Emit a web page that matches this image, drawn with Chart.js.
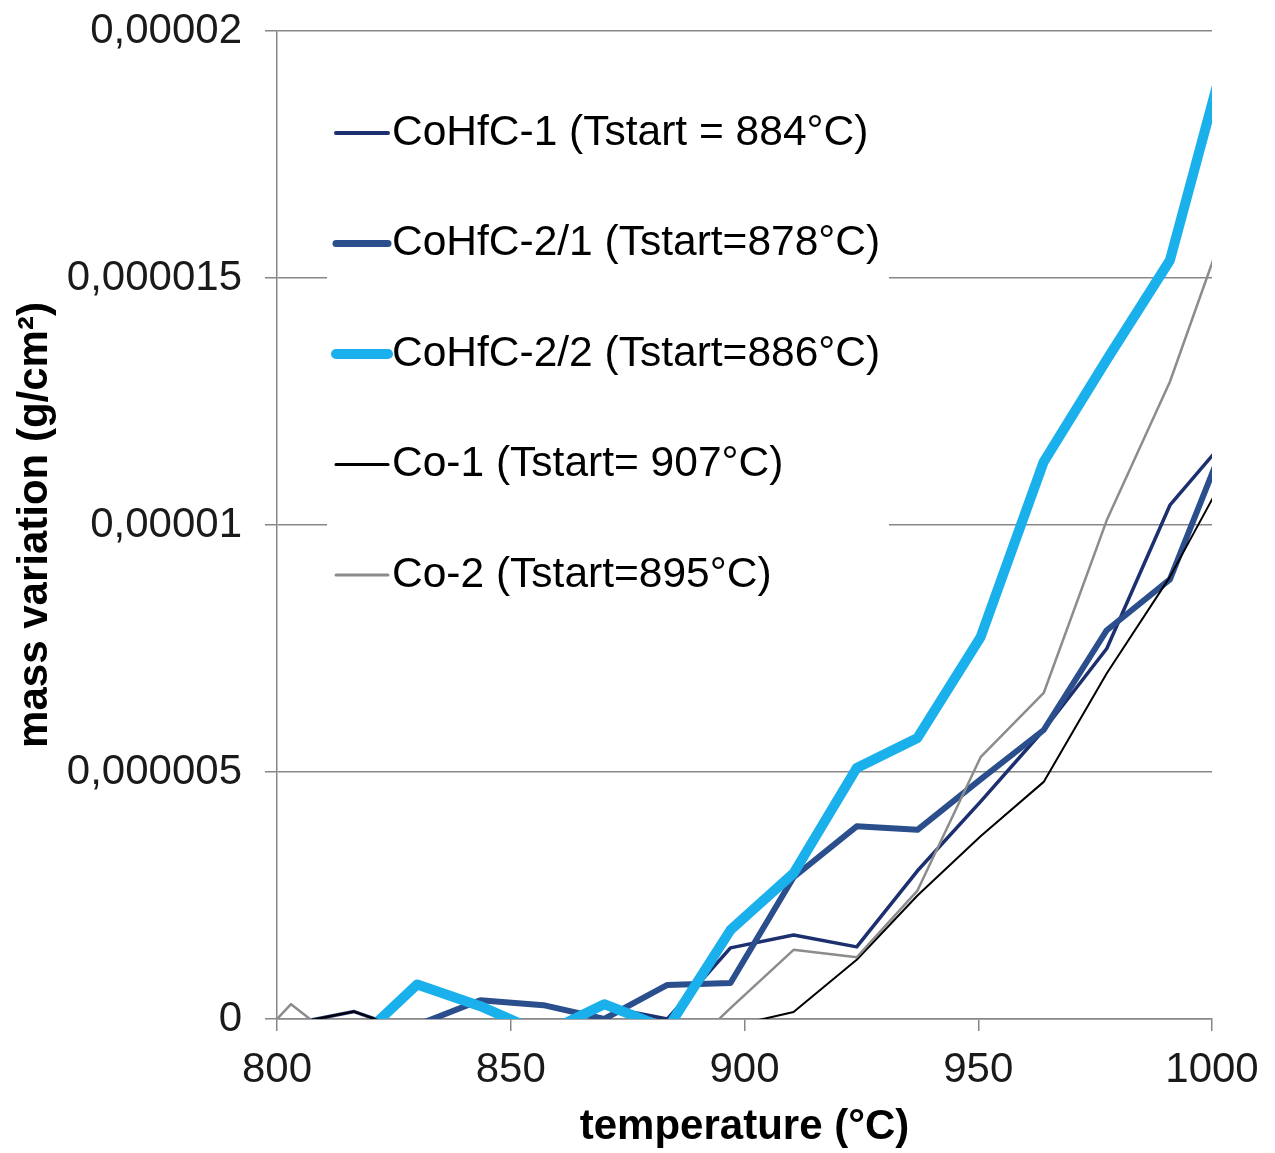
<!DOCTYPE html>
<html lang="en">
<head>
    <meta charset="UTF-8" />
    <title>mass variation vs temperature</title>
    <script src="https://cdn.jsdelivr.net/npm/chart.js"></script>
    <style>
        body {
            margin: 0;
            padding: 0;
            background: #fff;
        }

        #wrap {
            width: 1275px;
            height: 1153px;
        }
    </style>
</head>
<body>
    <div id="wrap"><canvas id="myChart" width="1275" height="1153"></canvas></div>

    <script>
        // temperatures (°C) of the readings, shared by every sample
        const temperatures = [790, 803, 816.5, 830, 843.5, 857, 870, 883.5, 897, 910.5, 924, 937, 950.5, 964, 977.5, 991, 1004.5];

        // mass variation, in units of 0,000001 g/cm²
        const cohfc1 = [null, -0.1, 0.15, -0.3, -0.3, -0.3, 0.25, 0.0, 1.44, 1.7, 1.46, 3.0, 4.4, 5.85, 7.5, 10.4, 11.9];
        const cohfc21 = [null, -0.3, -0.3, -0.12, 0.38, 0.28, 0.0, 0.69, 0.73, 2.87, 3.9, 3.83, 4.85, 5.85, 7.87, 8.9, 12.1];
        const cohfc22 = [null, -0.8, -0.5, 0.7, 0.26, -0.3, 0.3, -0.2, 1.8, 2.95, 5.08, 5.69, 7.73, 11.28, 13.35, 15.36, 20.1];
        const co1 = [null, -0.1, 0.15, -0.3, -0.3, -0.3, -0.3, -0.3, -0.15, 0.14, 1.2, 2.5, 3.7, 4.8, 7.0, 8.95, 11.3];
        const co2 = [-1.0, 0.3, -0.7, -0.7, -0.7, -0.7, -0.7, -1.0, 0.22, 1.4, 1.25, 2.6, 5.3, 6.6, 10.1, 12.9, 16.5];

        const seriesNames = [
            "CoHfC-1 (Tstart = 884°C)",
            "CoHfC-2/1 (Tstart=878°C)",
            "CoHfC-2/2 (Tstart=886°C)",
            "Co-1 (Tstart= 907°C)",
            "Co-2 (Tstart=895°C)",
        ];
        const seriesValues = [cohfc1, cohfc21, cohfc22, co1, co2];
        const seriesColors = ["#1c2f6e", "#2b4e8c", "#1ab0ec", "#000000", "#8c8c8c"];
        const lineWidths = [3.5, 6, 10, 2, 2.5];
        const legendWidths = [4, 7, 10, 3, 3];

        const xTickLabels = ["800", "850", "900", "950", "1000"];
        const yTickLabels = ["0", "0,000005", "0,00001", "0,000015", "0,00002"];

        const fontFamily = 'Arial, "Liberation Sans", sans-serif';
        const axisGrey = "#878787";

        // white legend box drawn over the plot, like the original
        const legendBox = {
            id: "legendBox",
            afterDraw(chart) {
                const ctx = chart.ctx;
                ctx.save();
                ctx.fillStyle = "#ffffff";
                ctx.fillRect(327, 80, 562, 545);
                ctx.font = "42.5px " + fontFamily;
                ctx.textBaseline = "middle";
                seriesNames.forEach((name, i) => {
                    const y = 133 + i * 110.5;
                    ctx.strokeStyle = seriesColors[i];
                    ctx.lineWidth = legendWidths[i];
                    ctx.lineCap = "round";
                    ctx.beginPath();
                    ctx.moveTo(336, y);
                    ctx.lineTo(388, y);
                    ctx.stroke();
                    ctx.fillStyle = "#000";
                    ctx.fillText(name, 392, y);
                });
                ctx.restore();
            },
        };

        const datasets = seriesValues.map((vals, i) => ({
            label: seriesNames[i],
            data: temperatures.map((t, j) => ({ x: t, y: vals[j] })),
            borderColor: seriesColors[i],
            backgroundColor: seriesColors[i],
            borderWidth: lineWidths[i],
            pointRadius: 0,
            tension: 0,
            borderJoinStyle: "round",
            borderCapStyle: "round",
            clip: 0,
            order: seriesValues.length - i, // later series drawn on top
        }));

        const ctx = document.getElementById("myChart").getContext("2d");
        new Chart(ctx, {
            type: "line",
            data: { datasets: datasets },
            plugins: [legendBox],
            options: {
                responsive: false,
                animation: false,
                devicePixelRatio: 1,
                layout: {
                    padding: { left: 0, top: 31, right: 63, bottom: 0 },
                },
                plugins: {
                    legend: { display: false },
                    tooltip: { enabled: false },
                },
                scales: {
                    x: {
                        type: "linear",
                        min: 800,
                        max: 1000,
                        afterFit: (s) => {
                            s.height = 134;
                            s.paddingLeft = 0;
                            s.paddingRight = 0;
                        },
                        ticks: {
                            stepSize: 50,
                            padding: 14,
                            color: "#1a1a1a",
                            font: { family: fontFamily, size: 42 },
                            callback: (v, i) => xTickLabels[i],
                        },
                        grid: {
                            drawOnChartArea: false,
                            drawTicks: true,
                            tickLength: 12,
                            color: axisGrey,
                            lineWidth: 1.5,
                        },
                        border: { display: true, color: axisGrey, width: 1.5 },
                        title: {
                            display: true,
                            text: "temperature (°C)",
                            color: "#000",
                            padding: 0,
                            font: { family: fontFamily, size: 42, weight: "bold" },
                        },
                    },
                    y: {
                        min: 0,
                        max: 20,
                        afterFit: (s) => {
                            s.width = 277;
                            s.paddingTop = 0;
                            s.paddingBottom = 0;
                        },
                        ticks: {
                            stepSize: 5,
                            padding: 23,
                            color: "#1a1a1a",
                            font: { family: fontFamily, size: 42 },
                            callback: (v, i) => yTickLabels[i],
                        },
                        grid: {
                            drawTicks: true,
                            tickLength: 12,
                            color: axisGrey,
                            lineWidth: 1.5,
                        },
                        border: { display: true, color: axisGrey, width: 1.5 },
                        title: {
                            display: true,
                            text: "mass variation (g/cm²)",
                            color: "#000",
                            padding: { top: 10, bottom: 0 },
                            font: { family: fontFamily, size: 42, weight: "bold" },
                        },
                    },
                },
            },
        });
    </script>
</body>
</html>
